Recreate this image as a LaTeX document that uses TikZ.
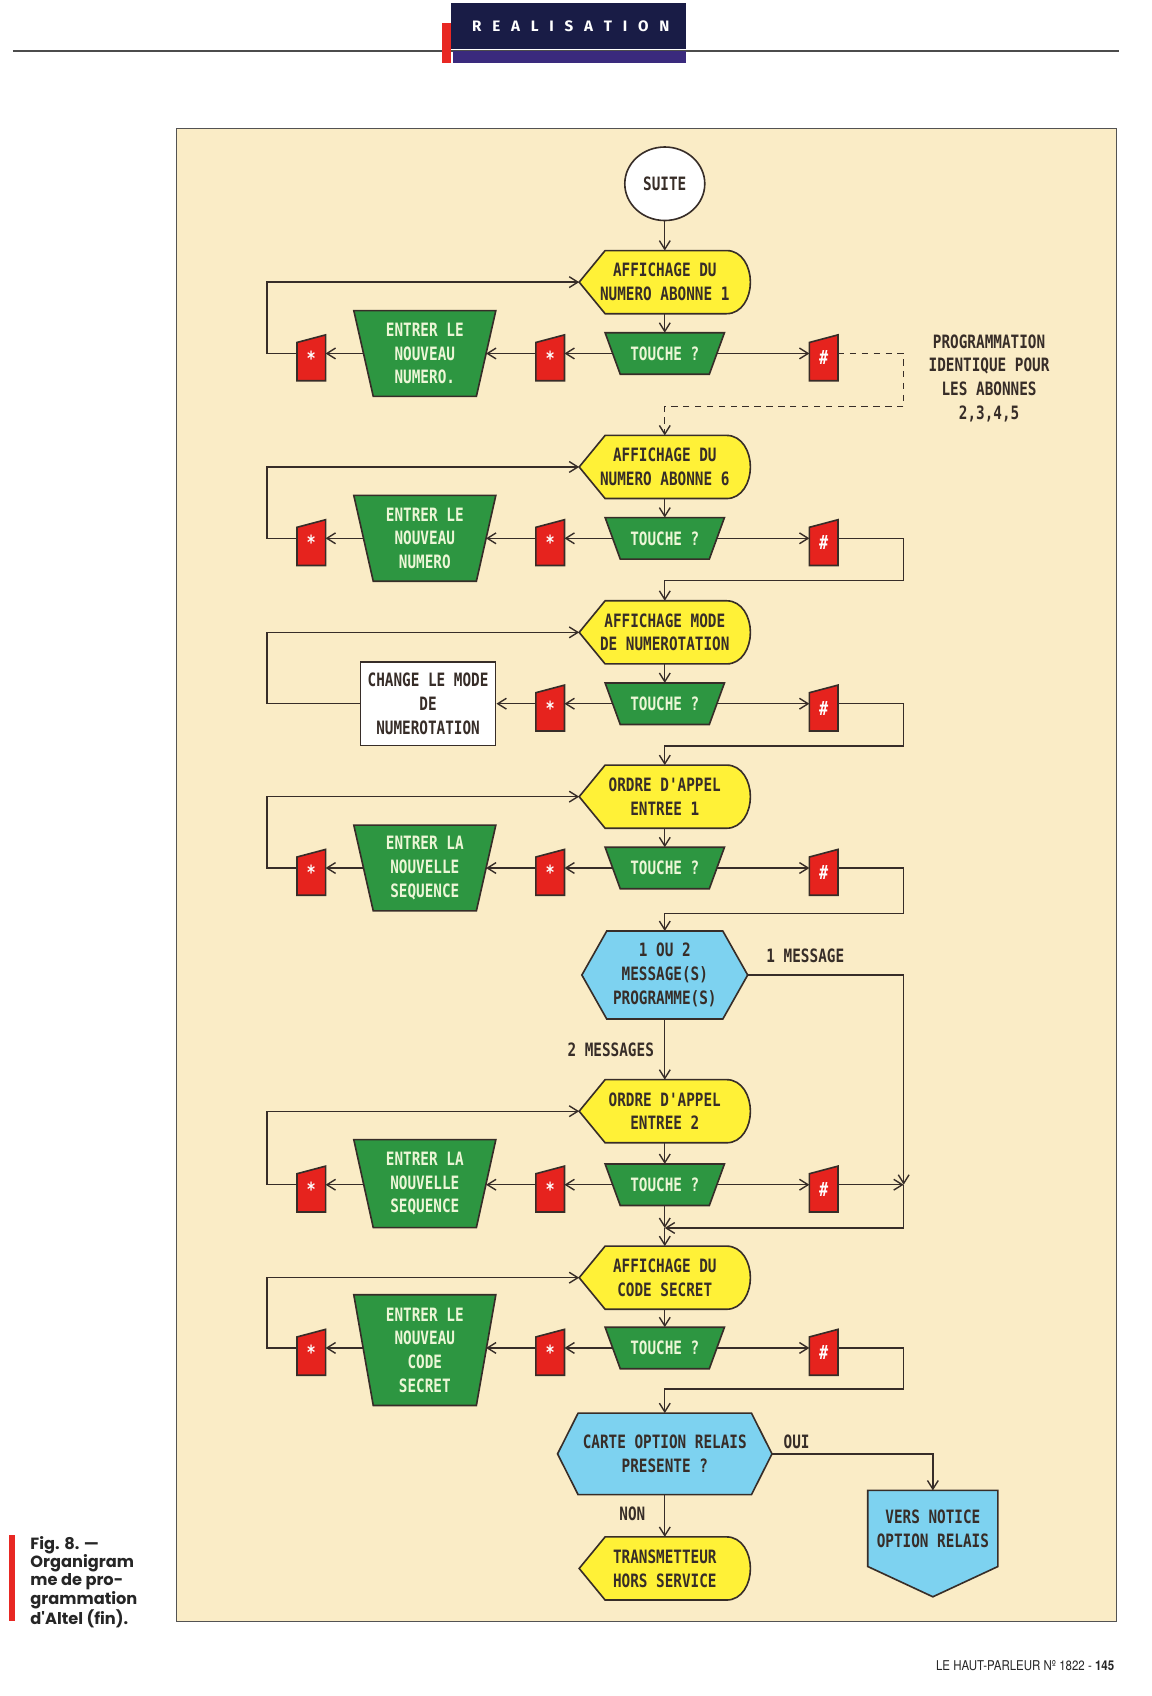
\documentclass[tikz,border=0pt]{standalone}
\usepackage{fontspec}
\usetikzlibrary{arrows.meta,shapes.geometric,calc}
\newfontfamily\plotfont[FakeStretch=0.78]{DejaVu Sans Mono}
\newfontfamily\capfont{Poppins}
\newfontfamily\footfont[FakeStretch=0.85]{TeX Gyre Heros}
\newfontfamily\headfont{Fira Sans}
\definecolor{panelbg}{RGB}{250,236,198}
\definecolor{ink}{RGB}{55,45,40}
\definecolor{dispyellow}{RGB}{255,241,55}
\definecolor{flowgreen}{RGB}{45,150,65}
\definecolor{greentext}{RGB}{236,246,214}
\definecolor{keyred}{RGB}{230,35,30}
\definecolor{flowcyan}{RGB}{125,210,240}
\definecolor{navy}{RGB}{25,28,70}
\definecolor{purpband}{RGB}{58,42,125}
\definecolor{hdrred}{RGB}{232,40,35}
\pgfdeclarelayer{panel}
\pgfdeclarelayer{shp}
\pgfsetlayers{panel,shp,main}
\tikzset{
  ptxt/.style={font=\plotfont\bfseries\fontsize{17}{22}\selectfont, align=center, inner sep=0pt, text=ink},
  dispnode/.style={ptxt, minimum width=158pt, minimum height=58pt},
  tchnode/.style={ptxt, text=greentext, minimum width=96pt, minimum height=38pt},
  entnode/.style={ptxt, text=greentext, minimum width=113pt, minimum height=79pt},
  keynode/.style={font=\plotfont\bfseries\fontsize{18}{18}\selectfont, text=white, inner sep=0pt, minimum width=26pt, minimum height=42pt},
  outl/.style={draw=ink, line width=1.5pt},
  arr/.style={draw=ink, line width=1.3pt, -{Straight Barb[length=8pt,width=10pt]}},
  lbl/.style={ptxt}
}
\begin{document}
\begin{tikzpicture}[x=1pt,y=-1pt]
\useasboundingbox (0,0) rectangle (1065,1569);
\begin{pgfonlayer}{panel}
\fill[white] (0,0) rectangle (1065,1569);
\fill[panelbg] (163,119) rectangle (1033,1500);
\draw[draw=gray!65!black, line width=1pt] (163,119) rectangle (1033,1500);
\draw[line width=1.8pt, draw=gray!60!black] (12,47) -- (1035,47);
\end{pgfonlayer}
% header badge
\fill[navy] (417,3) rectangle (635,45);
\fill[purpband] (419,47) rectangle (635,58);
\fill[hdrred] (409,21) rectangle (417,58);
\node[font=\headfont\bfseries\fontsize{14}{14}\selectfont, text=white, inner sep=0pt] (hdr) at (528,24)
  {R\kern10pt E\kern10pt A\kern10pt L\kern10pt I\kern10pt S\kern10pt A\kern10pt T\kern10pt I\kern10pt O\kern10pt N};

\coordinate (L) at (247,0);
\coordinate (R) at (836,0);

% start
\node[ptxt, ellipse, draw=ink, line width=1.5pt, fill=white, minimum width=74pt, minimum height=68pt] (s) at (615,170) {SUITE};

% row 1
\node[dispnode] (a1) at (615,261) {AFFICHAGE DU\\NUMERO ABONNE 1};
\node[tchnode] (t1) at (615,327) {TOUCHE ?};
\node[keynode] (ka1) at (509,331) {*};
\node[entnode] (e1) at (393,327) {ENTRER LE\\NOUVEAU\\NUMERO.};
\node[keynode] (kb1) at (288,331) {*};
\node[keynode] (kh1) at (762,331) {\#};
\node[lbl] (note) at (915,350) {PROGRAMMATION\\IDENTIQUE POUR\\LES ABONNES\\2,3,4,5};
\coordinate (j1) at (615,376);

% row 2
\node[dispnode] (a2) at (615,432) {AFFICHAGE DU\\NUMERO ABONNE 6};
\node[tchnode] (t2) at (615,498) {TOUCHE ?};
\node[keynode] (ka2) at (509,502) {*};
\node[entnode] (e2) at (393,498) {ENTRER LE\\NOUVEAU\\NUMERO};
\node[keynode] (kb2) at (288,502) {*};
\node[keynode] (kh2) at (762,502) {\#};
\coordinate (j2) at (615,537);

% row 3
\node[dispnode] (a3) at (615,585) {AFFICHAGE MODE\\DE NUMEROTATION};
\node[tchnode] (t3) at (615,651) {TOUCHE ?};
\node[keynode] (ka3) at (509,655) {*};
\node[ptxt, draw=ink, line width=1.5pt, fill=white, minimum width=125pt, minimum height=77pt] (c3) at (396,651) {CHANGE LE MODE\\DE\\NUMEROTATION};
\node[keynode] (kh3) at (762,655) {\#};
\coordinate (j3) at (615,690);

% row 4
\node[dispnode] (a4) at (615,737) {ORDRE D'APPEL\\ENTREE 1};
\node[tchnode] (t4) at (615,803) {TOUCHE ?};
\node[keynode] (ka4) at (509,807) {*};
\node[entnode] (e4) at (393,803) {ENTRER LA\\NOUVELLE\\SEQUENCE};
\node[keynode] (kb4) at (288,807) {*};
\node[keynode] (kh4) at (762,807) {\#};
\coordinate (j4) at (615,845);

% decision 1
\node[ptxt, minimum width=153pt, minimum height=81pt] (h5) at (615,902) {1 OU 2\\MESSAGE(S)\\PROGRAMME(S)};
\node[lbl] (m1) at (745,884) {1 MESSAGE};
\node[lbl] (m2) at (565,971) {2 MESSAGES};

% row 6
\node[dispnode] (a6) at (615,1028) {ORDRE D'APPEL\\ENTREE 2};
\node[tchnode] (t6) at (615,1096) {TOUCHE ?};
\node[keynode] (ka6) at (509,1100) {*};
\node[entnode, minimum height=81pt] (e6) at (393,1095) {ENTRER LA\\NOUVELLE\\SEQUENCE};
\node[keynode] (kb6) at (288,1100) {*};
\node[keynode] (kh6) at (762,1100) {\#};
\coordinate (j6) at (615,1136);

% row 7
\node[dispnode] (a7) at (615,1182) {AFFICHAGE DU\\CODE SECRET};
\node[tchnode] (t7) at (615,1247) {TOUCHE ?};
\node[keynode] (ka7) at (509,1251) {*};
\node[entnode, minimum height=102pt] (e7) at (393,1249) {ENTRER LE\\NOUVEAU\\CODE\\SECRET};
\node[keynode] (kb7) at (288,1251) {*};
\node[keynode] (kh7) at (762,1251) {\#};
\coordinate (j7) at (615,1285);

% decision 2
\node[ptxt, minimum width=198pt, minimum height=75pt] (h8) at (615,1345) {CARTE OPTION RELAIS\\PRESENTE ?};
\node[lbl] (oui) at (737,1334) {OUI};
\node[lbl] (non) at (585,1400) {NON};
\node[dispnode] (tr) at (615,1451) {TRANSMETTEUR\\HORS SERVICE};
\node[ptxt, minimum width=120pt, minimum height=70pt] (v) at (863,1414) {VERS NOTICE\\OPTION RELAIS};

% caption and footer
\fill[hdrred] (8,1420) rectangle (14,1500);
\node[anchor=north west, align=left, inner sep=0pt, font=\capfont\bfseries\fontsize{15}{17}\selectfont, text=black!85] (cap) at (28,1421)
  {Fig. 8. —\\Organigram\\me de pro-\\grammation\\d'Altel (fin).};
\node[anchor=base east, inner sep=0pt, font=\footfont\fontsize{12.5}{14}\selectfont, text=black!85] (foot) at (1031,1545)
  {LE HAUT-PARLEUR Nº 1822 - \textbf{145}};

% shapes
\begin{pgfonlayer}{shp}
\foreach \n in {a1,a2,a3,a4,a6,a7,tr}
  \draw[outl, fill=dispyellow] (\n.west) -- ([xshift=24pt]\n.north west) -- ([xshift=-22pt]\n.north east)
    to[out=0,in=90] (\n.east) to[out=-90,in=0] ([xshift=-22pt]\n.south east) -- ([xshift=24pt]\n.south west) -- cycle;
\foreach \n in {t1,t2,t3,t4,t6,t7}
  \draw[outl, fill=flowgreen] ([xshift=-7pt]\n.north west) -- ([xshift=7pt]\n.north east)
    -- ([xshift=-7pt]\n.south east) -- ([xshift=7pt]\n.south west) -- cycle;
\foreach \n in {e1,e2,e4,e6,e7}
  \draw[outl, fill=flowgreen] ([xshift=-9pt]\n.north west) -- ([xshift=9pt]\n.north east)
    -- ([xshift=-9pt]\n.south east) -- ([xshift=9pt]\n.south west) -- cycle;
\foreach \n in {ka1,kb1,kh1,ka2,kb2,kh2,ka3,kh3,ka4,kb4,kh4,ka6,kb6,kh6,ka7,kb7,kh7}
  \draw[outl, fill=keyred] (\n.south west) -- (\n.south east) -- (\n.north east) -- ([yshift=-7pt]\n.north west) -- cycle;
\draw[outl, fill=flowcyan] (h5.west) -- ([xshift=23pt]h5.north west) -- ([xshift=-23pt]h5.north east) -- (h5.east)
  -- ([xshift=-23pt]h5.south east) -- ([xshift=23pt]h5.south west) -- cycle;
\draw[outl, fill=flowcyan] (h8.west) -- ([xshift=19pt]h8.north west) -- ([xshift=-19pt]h8.north east) -- (h8.east)
  -- ([xshift=-19pt]h8.south east) -- ([xshift=19pt]h8.south west) -- cycle;
\draw[outl, fill=flowcyan] (v.north west) -- (v.north east) -- (v.south east) -- ([yshift=-28pt]v.south) -- (v.south west) -- cycle;
\end{pgfonlayer}

% main vertical arrows
\draw[arr] (s.south) -- (a1.north);
\foreach \i in {1,2,3,4,6,7} \draw[arr] (a\i.south) -- (t\i.north);

% left loops (rows with keys and input)
\foreach \i in {1,2,4,6,7} {
  \draw[arr] (t\i.west) -- (t\i.west -| ka\i.east);
  \draw[arr] (ka\i.west |- t\i.west) -- (t\i.west -| e\i.east);
  \draw[arr] (e\i.west |- t\i.west) -- (t\i.west -| kb\i.east);
  \draw[arr] (kb\i.west |- t\i.west) -- (L |- t\i.west) |- (a\i.west);
  \draw[arr] (t\i.east) -- (t\i.east -| kh\i.west);
}
% row 3
\draw[arr] (t3.west) -- (t3.west -| ka3.east);
\draw[arr] (ka3.west |- t3.west) -- (t3.west -| c3.east);
\draw[arr] (c3.west) -- (L |- c3.west) |- (a3.west);
\draw[arr] (t3.east) -- (t3.east -| kh3.west);

% right returns
\draw[arr, dash pattern=on 6pt off 5pt] (kh1.east |- t1.east) -- (R |- t1.east) -- (R |- j1) -- (j1) -- (a2.north);
\draw[arr] (kh2.east |- t2.east) -- (R |- t2.east) -- (R |- j2) -- (j2) -- (a3.north);
\draw[arr] (kh3.east |- t3.east) -- (R |- t3.east) -- (R |- j3) -- (j3) -- (a4.north);
\draw[arr] (kh4.east |- t4.east) -- (R |- t4.east) -- (R |- j4) -- (j4) -- (h5.north);
\draw[arr] (kh7.east |- t7.east) -- (R |- t7.east) -- (R |- j7) -- (j7) -- (h8.north);

% decision 1 branches
\draw[arr] (h5.east) -- (R |- h5.east) -- (R |- t6.east);
\draw[arr] (h5.south) -- (a6.north);
\draw[arr] (kh6.east |- t6.east) -- (R |- t6.east);
\draw[arr] (R |- t6.east) -- (R |- j6) -- (j6);
\draw[arr] (t6.south) -- (j6);
\draw[arr] (j6) -- (a7.north);

% decision 2 branches
\draw[arr] (h8.east) -- (v.north |- h8.east) -- (v.north);
\draw[arr] (h8.south) -- (tr.north);
\end{tikzpicture}
\end{document}
